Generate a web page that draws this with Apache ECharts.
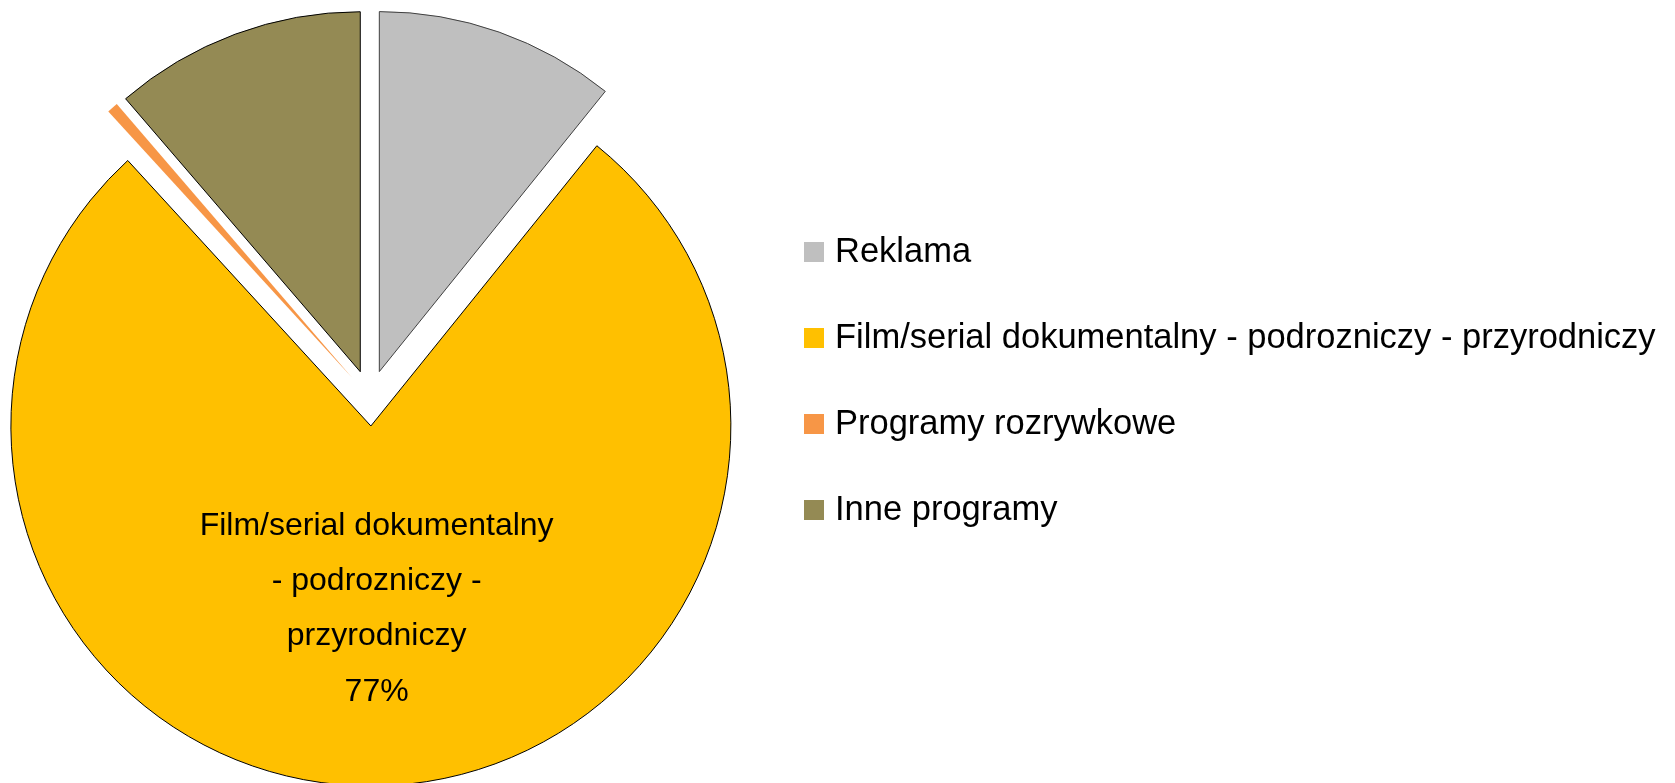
<!DOCTYPE html>
<html>
<head>
<meta charset="utf-8">
<script src="https://cdn.jsdelivr.net/npm/echarts@6/dist/echarts.min.js"></script>
<style>
html,body{margin:0;padding:0;background:#fff;}
#chart{width:1675px;height:783px;}
</style>
</head>
<body>
<div id="chart"></div>
<script>
const categories = ['Reklama', 'Film/serial dokumentalny - podrozniczy - przyrodniczy', 'Programy rozrywkowe', 'Inne programy'];
const values = [10.8, 77.4, 0.5, 11.3];
const colors = ['#BFBFBF', '#FFC000', '#F79646', '#948A54'];
const borderColors = ['#404040', '#000000', 'rgba(0,0,0,0)', '#000000'];
const labelledIndex = 1;
const labelText = 'Film/serial dokumentalny\n- podrozniczy -\nprzyrodniczy';

const font = '"Liberation Sans", Arial, sans-serif';
const chart = echarts.init(document.getElementById('chart'), null, {renderer: 'canvas'});

const data = categories.map((name, i) => {
  const style = {
    color: colors[i],
    borderColor: borderColors[i],
    borderWidth: i === 2 ? 0 : 1
  };
  return {
    name: name,
    value: values[i],
    selected: true,
    itemStyle: style,
    select: { itemStyle: style },
    label: { show: i === labelledIndex }
  };
});

chart.setOption({
  animation: false,
  backgroundColor: '#ffffff',
  color: colors,
  legend: {
    orient: 'vertical',
    left: 799,
    top: 227,
    itemWidth: 20,
    itemHeight: 20,
    itemGap: 46,
    icon: 'rect',
    selectedMode: false,
    itemStyle: { borderWidth: 0 },
    textStyle: {
      fontFamily: font,
      fontSize: 34.5,
      color: '#000',
      lineHeight: 40,
      padding: [0, 0, 0, 6]
    },
    data: categories
  },
  series: [{
    type: 'pie',
    center: [370, 398],
    radius: [0, 360],
    startAngle: 90,
    clockwise: true,
    selectedMode: 'multiple',
    selectedOffset: 28,
    avoidLabelOverlap: false,
    emphasis: { disabled: true },
    labelLine: { show: false },
    label: {
      position: 'inside',
      fontFamily: font,
      fontSize: 32,
      lineHeight: 55.2,
      offset: [-1, -3],
      color: '#000',
      align: 'center',
      formatter: function (p) {
        return labelText + '\n' + Math.round(p.percent) + '%';
      }
    },
    data: data
  }]
});
</script>
</body>
</html>
